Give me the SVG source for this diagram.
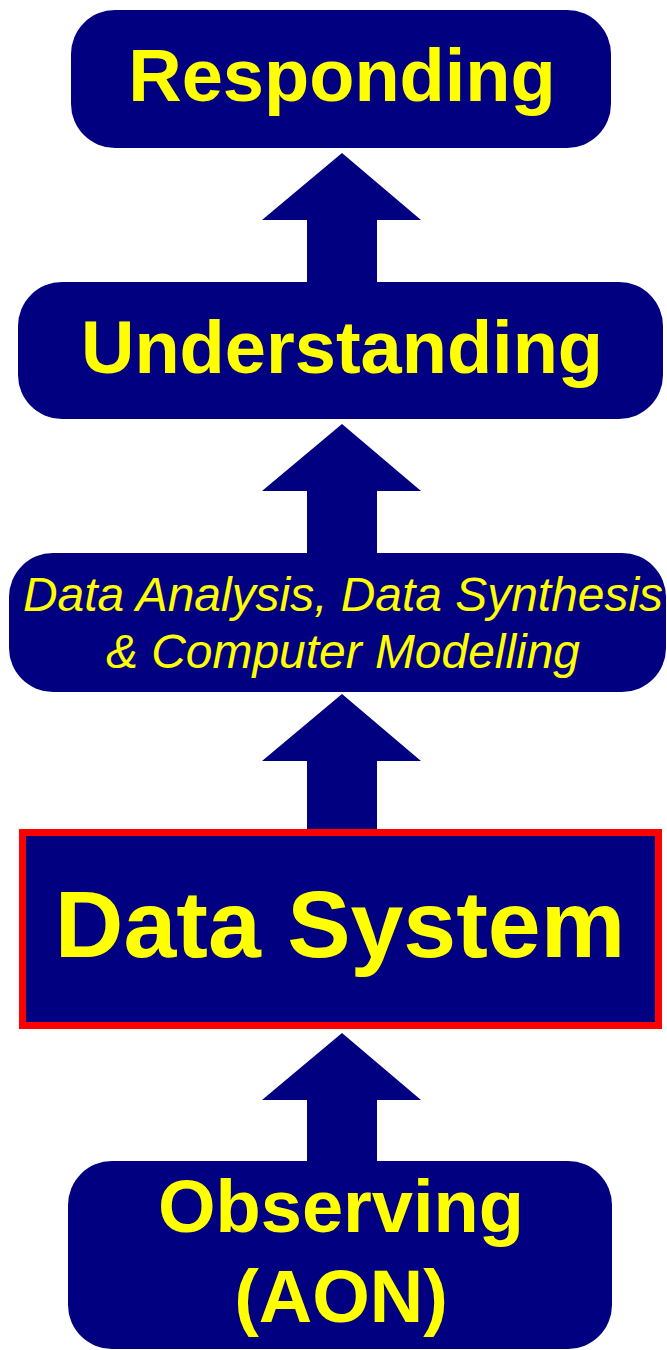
<svg xmlns="http://www.w3.org/2000/svg" width="667" height="1350" viewBox="0 0 667 1350">
<style>
.box{fill:#000080}
.arrow{fill:#000080}
.lbl{font-family:"Liberation Sans",Arial,sans-serif;font-weight:bold;fill:#FFFF00;text-anchor:middle}
.ital{font-family:"Liberation Sans",Arial,sans-serif;font-style:italic;fill:#FFFF00;text-anchor:middle}
</style>
<rect width="667" height="1350" fill="#ffffff"/>
<g id="connectors">
<polygon class="arrow" points="342,153 421,220 377,220 377,284 307,284 307,220 262,220"/>
<polygon class="arrow" points="342,424 421,491 377,491 377,555 307,555 307,491 262,491"/>
<polygon class="arrow" points="342,694 421,761 377,761 377,831 307,831 307,761 262,761"/>
<polygon class="arrow" points="342,1033 421,1100 377,1100 377,1163 307,1163 307,1100 262,1100"/>
</g>
<g id="responding">
<rect class="box" x="71" y="10" width="540" height="138" rx="44" ry="44"/>
<text class="lbl" x="342" y="101" font-size="74">Responding</text>
</g>
<g id="understanding">
<rect class="box" x="18" y="282" width="645" height="137" rx="44" ry="44"/>
<text class="lbl" x="342" y="373" font-size="74">Understanding</text>
</g>
<g id="analysis">
<rect class="box" x="9" y="553" width="657" height="139" rx="44" ry="44"/>
<text class="ital" x="343" y="611" font-size="48" textLength="640" lengthAdjust="spacingAndGlyphs">Data Analysis, Data Synthesis</text>
<text class="ital" x="343" y="668" font-size="48" textLength="474" lengthAdjust="spacingAndGlyphs">&amp; Computer Modelling</text>
</g>
<g id="datasystem">
<rect x="22.5" y="832.5" width="636" height="193" fill="#000080" stroke="#FF0000" stroke-width="7"/>
<text class="lbl" x="340" y="957" font-size="95">Data System</text>
</g>
<g id="observing">
<rect class="box" x="68" y="1161" width="544" height="188" rx="44" ry="44"/>
<text class="lbl" x="341" y="1232" font-size="74">Observing</text>
<text class="lbl" x="341" y="1322" font-size="74">(AON)</text>
</g>
</svg>
